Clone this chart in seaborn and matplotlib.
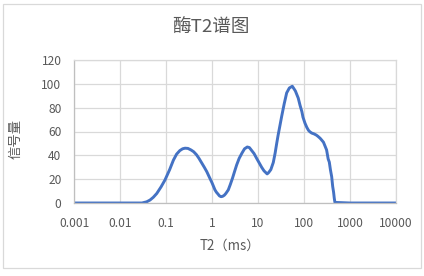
import matplotlib
matplotlib.use("Agg")
import matplotlib.pyplot as plt
from matplotlib.patches import Rectangle
from matplotlib.ticker import FixedLocator, FixedFormatter, NullLocator
import seaborn as sns
import pandas as pd

# ---- data ----
t2_ms = [0.001, 0.01, 0.03, 0.038, 0.045, 0.053, 0.063, 0.078, 0.095, 0.12,
         0.145, 0.17, 0.2, 0.23, 0.26, 0.3, 0.35, 0.4, 0.46, 0.52,
         0.6, 0.68, 0.77, 0.88, 1.0, 1.16, 1.25, 1.35, 1.45, 1.57,
         1.7, 1.85, 2.0, 2.26, 2.5, 2.8, 3.1, 3.44, 3.9, 4.5,
         5.1, 5.85, 6.5, 7.3, 8.2, 9.3, 10.5, 12, 13.5, 15.8,
         17, 19, 21.5, 23.6, 25.5, 27.4, 30, 32.7, 37, 42,
         48, 55.7, 65, 75, 82, 90, 95, 105, 115, 125,
         135, 147, 165, 185, 200, 223, 240, 265, 285, 310,
         335, 355, 375, 400, 420, 440, 455, 470, 1000, 10000]
signal = [0, 0, 0, 1, 2.5, 4.8, 8, 13.5, 19.3, 28,
          36, 41, 44, 45.5, 46, 45.8, 44.5, 43, 40.5, 37.5,
          33.5, 30, 26.3, 21.5, 17, 11, 9, 7.5, 6, 5.3,
          5.6, 6.5, 8, 11, 15.5, 21, 26.5, 32, 37.5, 42,
          45.5, 47, 46.5, 44, 41.5, 37.6, 34, 30, 27, 24.4,
          25.5, 28, 34, 42, 50, 57, 65, 72.7, 83, 92.4,
          96.5, 98, 94, 88, 82, 76.6, 72, 67, 63.5, 61,
          59.7, 58.7, 58, 57, 56, 54.4, 53, 51, 48, 44.5,
          37, 34.3, 28, 22, 14, 9, 4, 0.5, 0, 0]
x_ticks = [0.001, 0.01, 0.1, 1, 10, 100, 1000, 10000]
x_tick_labels = ["0.001", "0.01", "0.1", "1", "10", "100", "1000", "10000"]
y_ticks = [0, 20, 40, 60, 80, 100, 120]
title = "酶T2谱图"
x_label = "T2（ms）"
y_label = "信号量"

df = pd.DataFrame({"T2": t2_ms, "signal": signal})

sns.set_theme(style="white")
plt.rcParams["font.family"] = ["Noto Sans CJK SC", "DejaVu Sans"]

W, H = 424, 276
fig = plt.figure(figsize=(W / 100, H / 100), dpi=100)
fig.patch.set_facecolor("white")

# chart area border
fig.add_artist(Rectangle((3 / W, 1 - 268 / H), (421 - 3) / W, (268 - 4) / H,
                         transform=fig.transFigure, fill=False,
                         edgecolor="#D9D9D9", linewidth=0.9))

left, right, top, bottom = 74, 396, 60, 203
ax = fig.add_axes([left / W, 1 - bottom / H, (right - left) / W, (bottom - top) / H])

sns.lineplot(data=df, x="T2", y="signal", ax=ax, color="#4472C4",
             linewidth=2.1, sort=False, solid_joinstyle="round",
             solid_capstyle="round")

ax.set_xscale("log")
ax.set_xlim(0.001, 10000)
ax.set_ylim(0, 120)
ax.xaxis.set_major_locator(FixedLocator(x_ticks))
ax.xaxis.set_major_formatter(FixedFormatter(x_tick_labels))
ax.xaxis.set_minor_locator(NullLocator())
ax.set_yticks(y_ticks)

ax.grid(True, color="#D9D9D9", linewidth=0.9)
ax.set_axisbelow(True)
for s in ["top", "right"]:
    ax.spines[s].set_color("#D9D9D9")
    ax.spines[s].set_linewidth(0.9)
for s in ["left", "bottom"]:
    ax.spines[s].set_color("#BFBFBF")
    ax.spines[s].set_linewidth(0.9)

ax.tick_params(axis="both", length=0, labelsize=8.6, labelcolor="#595959")
ax.tick_params(axis="x", pad=10)
ax.tick_params(axis="y", pad=9)

ax.set_xlabel(x_label, fontsize=9.6, color="#595959")
ax.set_ylabel(y_label, fontsize=9.6, color="#595959")
ax.yaxis.set_label_coords(-0.16, 0.45)
ax.xaxis.set_label_coords(0.485, -0.25)

fig.text(211 / W, 1 - 27 / H, title, ha="center", va="center",
         fontsize=13.4, color="#595959")

fig.savefig("out.png", dpi=100)
